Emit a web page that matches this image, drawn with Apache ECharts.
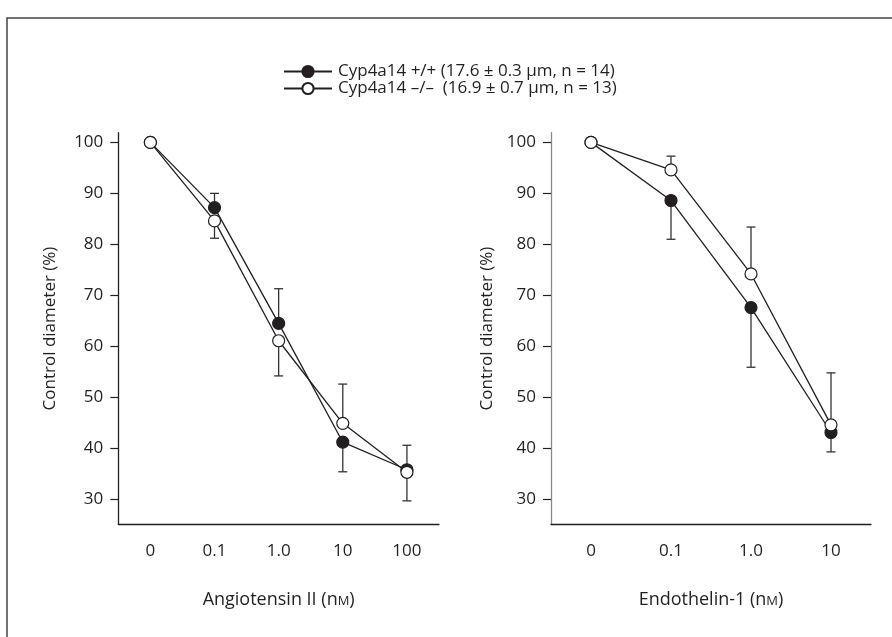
<!DOCTYPE html>
<html>
<head>
<meta charset="utf-8">
<script src="https://cdn.jsdelivr.net/npm/echarts@6/dist/echarts.min.js"></script>
<style>
html,body{margin:0;padding:0;background:#fff;}
#chart{width:892px;height:637px;}
</style>
</head>
<body>
<div id="chart"></div>
<script>
// ---- data ----
const xLabelsLeft = ['0', '0.1', '1.0', '10', '100'];
const xLabelsRight = ['0', '0.1', '1.0', '10'];
const yTicks = [30, 40, 50, 60, 70, 80, 90, 100];
const nameWT = 'Cyp4a14 +/+ (17.6 ± 0.3 µm, n = 14)';
const nameKO = 'Cyp4a14 –/–  (16.9 ± 0.7 µm, n = 13)';
// Angiotensin II
const angWT = [100, 87.2, 64.5, 41.2, 35.8];
const angKO = [100, 84.6, 61.1, 44.9, 35.3];
const angWTErr = [null, 90.0, 71.3, 35.4, 40.6];
const angKOErr = [null, 81.2, 54.2, 52.6, 29.7];
// Endothelin-1
const endWT = [100, 88.6, 67.6, 43.1];
const endKO = [100, 94.6, 74.2, 44.6];
const endWTErr = [null, 81.0, 55.9, 39.3];
const endKOErr = [null, 97.3, 83.4, 54.8];
const xTitleLeft = 'Angiotensin II';
const xTitleRight = 'Endothelin-1';
const yTitle = 'Control diameter (%)';

// ---- styling ----
const FONT = 'Open Sans';
const INK = '#231f20';

function errData(vals, ends) {
  const out = [];
  vals.forEach((v, i) => { if (ends[i] != null) out.push([i, v, ends[i]]); });
  return out;
}
function errSeries(xi, vals, ends) {
  return {
    type: 'custom', xAxisIndex: xi, yAxisIndex: xi, silent: true, z: 1,
    data: errData(vals, ends),
    renderItem: function (params, api) {
      const p1 = api.coord([api.value(0), api.value(1)]);
      const p2 = api.coord([api.value(0), api.value(2)]);
      const st = { stroke: '#333', lineWidth: 1.3 };
      return {
        type: 'group',
        children: [
          { type: 'line', shape: { x1: p1[0], y1: p1[1], x2: p2[0], y2: p2[1] }, style: st },
          { type: 'line', shape: { x1: p2[0] - 4.5, y1: p2[1], x2: p2[0] + 4.5, y2: p2[1] }, style: st }
        ]
      };
    }
  };
}
function lineSeries(name, xi, vals, filled) {
  return {
    name: name, type: 'line', xAxisIndex: xi, yAxisIndex: xi, z: 3,
    data: vals, symbol: 'circle', symbolSize: 12, showSymbol: true,
    lineStyle: { color: INK, width: 1.3 },
    itemStyle: { color: filled ? INK : '#fff', borderColor: INK, borderWidth: 1.2 },
    emphasis: { disabled: true },
    animation: false
  };
}
function xAxisDef(gi, labels, title) {
  return {
    type: 'category', gridIndex: gi, data: labels, boundaryGap: true,
    axisLine: { lineStyle: { color: INK, width: 1.3 } },
    axisTick: { alignWithLabel: true, length: 7, lineStyle: { color: INK, width: 1.2 } },
    axisLabel: { margin: 18, fontFamily: FONT, fontSize: 17, color: INK },
    splitLine: { show: false },
    name: '{a|' + title + ' (n}{s|M}{a|)}', nameLocation: 'middle', nameGap: 67,
    nameTextStyle: {
      rich: {
        a: { fontFamily: FONT, fontSize: 18, color: INK },
        s: { fontFamily: FONT, fontSize: 13, color: INK, padding: [2, 0, 0, 0] }
      }
    }
  };
}
function yAxisDef(gi, lineColor, gap) {
  return {
    type: 'value', gridIndex: gi, min: 25.1, max: 101.9,
    axisLine: { show: true, lineStyle: { color: lineColor, width: 1.3 } },
    axisTick: { show: true, length: 8, customValues: yTicks, lineStyle: { color: INK, width: 1.2 } },
    axisLabel: { margin: 15, customValues: yTicks, fontFamily: FONT, fontSize: 17, color: INK },
    splitLine: { show: false },
    name: yTitle, nameLocation: 'middle', nameGap: gap, nameRotate: 90,
    nameTextStyle: { fontFamily: FONT, fontSize: 17, color: INK }
  };
}
function legendDef(name, top) {
  return {
    left: 283, top: top, padding: 0,
    itemWidth: 48, itemHeight: 14,
    data: [name],
    textStyle: { fontFamily: FONT, fontSize: 17, lineHeight: 17, color: INK, padding: [0, 0, 0, 1] },
    selectedMode: false
  };
}

const chart = echarts.init(document.getElementById('chart'), null, { renderer: 'canvas' });
chart.setOption({
  animation: false,
  backgroundColor: '#fff',
  graphic: [
    { type: 'polyline', shape: { points: [[7, 637], [7, 18], [892, 18]] }, style: { stroke: '#444', lineWidth: 1.5, fill: null } }
  ],
  legend: [legendDef(nameWT, 63), legendDef(nameKO, 80)],
  grid: [
    { left: 118.3, top: 132.7, width: 320.7, height: 391.6 },
    { left: 551, top: 132.7, width: 320, height: 391.6 }
  ],
  xAxis: [xAxisDef(0, xLabelsLeft, xTitleLeft), xAxisDef(1, xLabelsRight, xTitleRight)],
  yAxis: [yAxisDef(0, INK, 60), yAxisDef(1, '#888', 55)],
  series: [
    errSeries(0, angWT, angWTErr),
    errSeries(0, angKO, angKOErr),
    errSeries(1, endWT, endWTErr),
    errSeries(1, endKO, endKOErr),
    lineSeries(nameWT, 0, angWT, true),
    lineSeries(nameKO, 0, angKO, false),
    lineSeries(nameWT, 1, endWT, true),
    lineSeries(nameKO, 1, endKO, false)
  ]
});
</script>
</body>
</html>
